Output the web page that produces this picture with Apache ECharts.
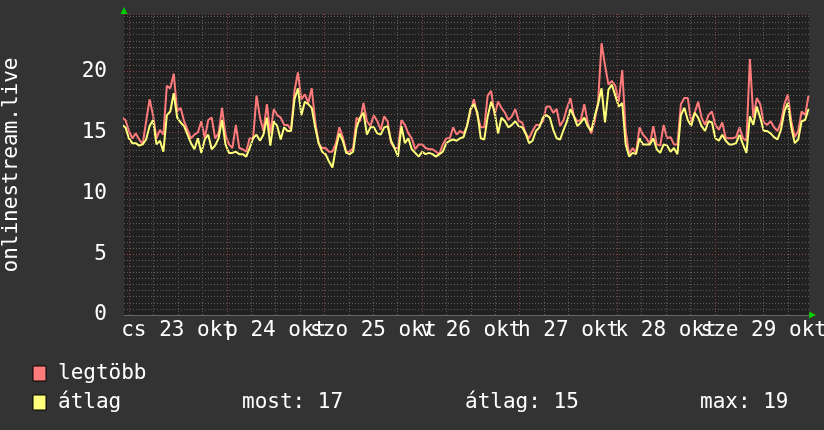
<!DOCTYPE html>
<html><head><meta charset="utf-8">
<script src="https://cdn.jsdelivr.net/npm/echarts@6/dist/echarts.min.js"></script>
<style>html,body{margin:0;padding:0;background:#333333;}#c{width:824px;height:430px;}</style>
</head><body><div id="c"></div>
<script>
// x labels (centered at noon of each day), hours from 23 okt 00:00
const dayLabels = ['cs 23 okt','p 24 okt','szo 25 okt','v 26 okt','h 27 okt','k 28 okt','sze 29 okt'];
const labelHours = [12, 36, 60, 84, 108, 132, 156];
const yTitle = 'onlinestream.live';
const seriesNames = ['legtöbb', 'átlag'];
const statTexts = ['most: 17', 'átlag: 15', 'max: 19'];
// samples: first sample time (hours) and step (hours)
const startHour = -1.795;
const stepHour = 0.8483;
const maxVals = [
16.2,16.0,15.1,14.5,14.9,14.4,14.0,15.9,17.7,16.4,14.5,15.2,14.8,18.8,18.6,19.8,16.7,17.0,15.9,15.2,14.5,14.8,15.0,15.9,14.5,16.0,16.2,14.5,14.9,17.0,14.8,14.0,13.7,15.6,13.7,13.6,13.4,14.5,14.5,18.0,
16.2,15.1,17.3,14.9,16.9,16.4,16.2,15.6,15.6,15.2,18.4,19.9,17.7,18.1,17.4,18.6,15.9,14.1,13.7,13.7,13.4,13.4,14.1,15.4,14.6,13.4,13.4,13.7,16.2,15.9,17.4,15.9,15.5,16.4,15.9,15.2,16.3,15.9,14.1,13.7,
13.7,16.0,15.6,14.9,14.5,13.6,14.0,14.0,13.7,13.6,13.6,13.4,13.2,14.0,14.5,14.5,15.4,14.8,15.1,14.9,15.5,16.7,17.7,16.4,15.4,15.4,18.0,18.4,16.4,17.5,17.0,16.6,16.0,16.3,16.9,15.9,15.8,14.9,14.5,15.1,
15.6,15.6,15.9,17.1,17.1,16.6,16.9,15.5,16.0,17.0,17.8,16.3,15.9,16.0,17.3,15.8,14.9,15.9,17.5,22.3,20.5,18.9,19.2,18.8,17.5,20.1,15.1,13.2,13.7,13.3,15.4,14.8,14.5,14.0,15.5,14.0,13.9,15.6,14.5,14.6,
14.0,14.0,17.3,17.8,17.8,15.8,16.6,17.5,16.2,15.6,16.4,16.7,15.6,15.2,15.8,14.5,14.5,14.5,14.6,15.4,14.5,14.3,21.0,16.2,17.8,17.3,15.8,15.6,15.9,15.4,15.1,15.8,17.3,18.1,15.9,14.6,15.1,16.7,16.4,18.0
];
const avgVals = [
15.6,15.4,14.5,14.1,14.1,13.9,14.0,14.4,15.5,16.0,14.0,14.3,13.4,16.4,16.7,18.2,16.2,15.8,15.5,14.8,14.1,13.6,14.5,13.3,14.4,14.8,13.6,13.9,14.5,16.0,14.0,13.3,13.3,13.4,13.2,13.2,13.0,13.7,14.5,14.8,
14.3,14.8,16.2,13.9,15.9,15.5,14.4,15.4,15.1,15.1,17.7,18.6,16.4,17.5,17.3,17.0,15.4,14.1,13.4,13.2,12.6,12.1,13.7,14.9,14.3,13.3,13.2,13.4,15.4,16.2,16.6,14.8,15.4,15.4,14.9,14.8,15.4,15.5,14.3,13.7,
13.0,15.5,14.1,14.5,13.6,13.3,13.0,13.4,13.2,13.3,13.2,13.0,13.2,13.4,14.1,14.3,14.4,14.3,14.5,14.6,15.5,16.9,17.3,16.6,14.5,14.4,16.3,17.5,16.7,14.9,16.2,15.9,15.4,15.6,15.9,15.5,15.4,14.9,14.1,14.3,
15.1,15.4,16.2,16.4,16.2,15.2,14.5,14.4,15.2,15.9,16.9,16.3,15.5,15.8,16.2,15.5,15.1,16.3,17.3,18.6,15.8,18.5,18.9,18.0,17.1,17.4,14.0,13.0,13.3,13.2,14.5,14.0,14.0,14.0,14.5,13.6,13.3,14.0,13.9,13.4,
13.7,13.2,16.4,17.0,16.0,15.5,16.6,16.2,15.5,15.1,15.9,15.8,14.5,14.3,14.8,14.3,14.0,14.0,14.1,14.8,14.0,13.3,16.3,15.6,17.1,16.2,15.1,15.1,14.9,14.6,14.4,15.2,16.7,17.4,15.4,14.1,14.4,15.9,16.0,16.9
];

const FONT = 'DejaVu Sans Mono';
const RED = '#ff7b7b', YEL = '#ffff7b';
const GRID_MINOR = '#5c5c5c', GRID_MAJOR = '#8a4444';
const xs = maxVals.map((_, i) => startHour + i * stepHour);
const gridHours = [];
for (let h = 0; h <= 166; h += 6) gridHours.push(h);

const chart = echarts.init(document.getElementById('c'), null, {renderer: 'canvas'});
const yColors = [GRID_MAJOR].concat(new Array(9).fill(GRID_MINOR));
const staticGraphics = [
  {type: 'text', x: 12, y: 165, rotation: Math.PI / 2,
    style: {text: yTitle, fill: '#fff', font: '21px ' + FONT, align: 'center', verticalAlign: 'middle'}},
  {type: 'polygon', shape: {points: [[120.5, 14], [127.5, 14], [124, 7]]}, style: {fill: '#00cc00'}},
  {type: 'polygon', shape: {points: [[809, 311.5], [809, 318.5], [816, 315]]}, style: {fill: '#00cc00'}},
  {type: 'rect', shape: {x: 33, y: 366, width: 13, height: 15}, style: {fill: RED, stroke: '#000', lineWidth: 1}},
  {type: 'rect', shape: {x: 33, y: 395, width: 13, height: 15}, style: {fill: YEL, stroke: '#000', lineWidth: 1}},
  {type: 'text', x: 58, y: 374, style: {text: seriesNames[0], fill: '#fff', font: '21px ' + FONT, verticalAlign: 'middle'}},
  {type: 'text', x: 58, y: 403, style: {text: seriesNames[1], fill: '#fff', font: '21px ' + FONT, verticalAlign: 'middle'}},
  {type: 'text', x: 242, y: 403, style: {text: statTexts[0], fill: '#fff', font: '21px ' + FONT, verticalAlign: 'middle'}},
  {type: 'text', x: 465, y: 403, style: {text: statTexts[1], fill: '#fff', font: '21px ' + FONT, verticalAlign: 'middle'}},
  {type: 'text', x: 700, y: 403, style: {text: statTexts[2], fill: '#fff', font: '21px ' + FONT, verticalAlign: 'middle'}}
];
chart.setOption({
  backgroundColor: '#333333',
  animation: false,
  grid: {left: 124, top: 14, width: 685, height: 301, show: true, backgroundColor: '#212121', borderWidth: 0},
  xAxis: {
    type: 'value', min: -1.3, max: 167.13,
    axisLine: {show: true, lineStyle: {color: '#666', width: 1}},
    axisTick: {show: false},
    splitLine: {show: false},
    axisLabel: {show: false}
  },
  yAxis: {
    type: 'value', min: 0, max: 24.7, interval: 0.5,
    axisLine: {show: false}, axisTick: {show: false},
    axisLabel: {
      formatter: v => (Math.abs(v / 5 - Math.round(v / 5)) < 1e-6 ? String(Math.round(v)) : ''),
      color: '#ffffff', fontFamily: FONT, fontSize: 21, margin: 17
    },
    splitLine: {show: true, lineStyle: {type: [1, 2], width: 1, color: yColors}}
  },
  series: [
    {
      type: 'line', data: xs.map((x, i) => [x, avgVals[i]]), showSymbol: false, silent: true, z: 1,
      lineStyle: {opacity: 0},
      markLine: {
        silent: true, symbol: ['none', 'none'], label: {show: false}, animation: false,
        data: gridHours.map(h => ({xAxis: h, lineStyle: {color: h % 24 === 0 ? GRID_MAJOR : GRID_MINOR, type: [1, 2], width: 1}}))
      }
    },
    {name: seriesNames[0], type: 'line', data: xs.map((x, i) => [x, maxVals[i]]), showSymbol: false, z: 3,
      lineStyle: {color: RED, width: 2}},
    {name: seriesNames[1], type: 'line', data: xs.map((x, i) => [x, avgVals[i]]), showSymbol: false, z: 4,
      lineStyle: {color: YEL, width: 2}}
  ],
  graphic: staticGraphics
});
// x-axis day labels, placed through the axis scale
const axisY = chart.convertToPixel({yAxisIndex: 0}, 0);
const labelGraphics = labelHours.map((h, i) => ({
  type: 'text', x: chart.convertToPixel({xAxisIndex: 0}, h), y: axisY + 16,
  style: {text: dayLabels[i], fill: '#fff', font: '21px ' + FONT, align: 'center', verticalAlign: 'middle'}
}));
chart.setOption({graphic: staticGraphics.concat(labelGraphics)}, {replaceMerge: ['graphic']});
</script>
</body></html>
